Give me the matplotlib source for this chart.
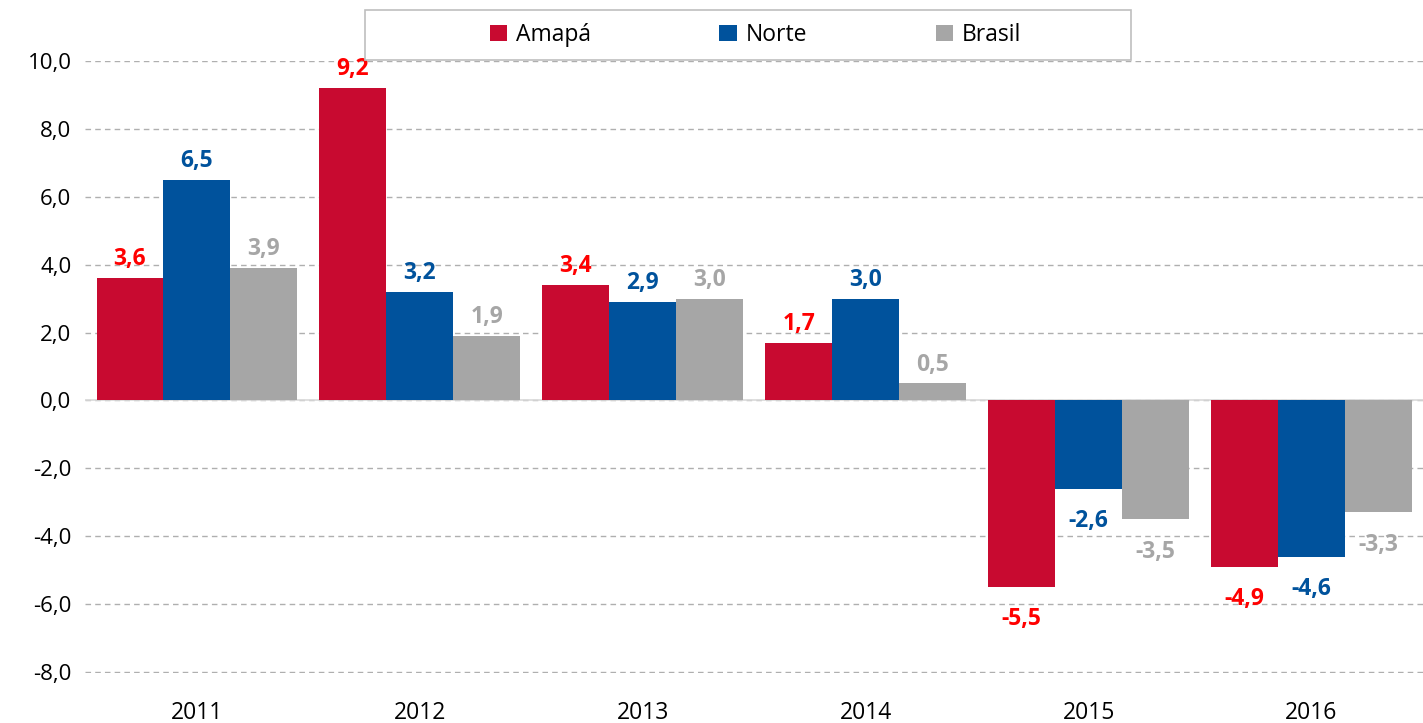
import numpy as np
import matplotlib.pyplot as plt
from matplotlib.patches import Rectangle

anos = ['2011', '2012', '2013', '2014', '2015', '2016']
amapa = [3.6, 9.2, 3.4, 1.7, -5.5, -4.9]
norte = [6.5, 3.2, 2.9, 3.0, -2.6, -4.6]
brasil = [3.9, 1.9, 3.0, 0.5, -3.5, -3.3]
series = ['Amapá', 'Norte', 'Brasil']

cor_barra = ['#C80A30', '#00529C', '#A6A6A6']
cor_rotulo = ['#FF0000', '#00529C', '#A6A6A6']

plt.rcParams['font.family'] = ['Open Sans', 'DejaVu Sans']

fig = plt.figure(figsize=(14.23, 7.23), dpi=100)
ax = fig.add_axes([0.060, 0.0692, 0.940, 0.8465])

x = np.arange(len(anos))
w = 0.3
for i, vals in enumerate([amapa, norte, brasil]):
    pos = x + (i - 1) * w
    ax.bar(pos, vals, w, color=cor_barra[i], label=series[i], zorder=3)
    for xp, v in zip(pos, vals):
        # rotulos acima das barras positivas, abaixo das negativas
        off = 0.2 if v >= 0 else -0.6
        ax.text(xp, v + off, f'{v:.1f}'.replace('.', ','), ha='center',
                va='bottom' if v >= 0 else 'top', color=cor_rotulo[i],
                fontsize=16.5, fontweight='bold', zorder=4, clip_on=False)

ax.set_xlim(-0.5, len(anos) - 0.5)
ax.set_ylim(-8.03, 10)
ax.set_yticks(np.arange(-8, 11, 2))
ax.set_yticklabels([f'{t:.1f}'.replace('.', ',') for t in np.arange(-8, 11, 2)], fontsize=16)
ax.set_xticks(x)
ax.set_xticklabels(anos, fontsize=16.5)
ax.tick_params(axis='both', length=0)
ax.tick_params(axis='x', pad=20)
ax.tick_params(axis='y', pad=10)
ax.grid(axis='y', color='#AFAFAF', linestyle=(0, (4, 3)), linewidth=1, zorder=0)
ax.axhline(0, color='#D9D9D9', linewidth=1.2, zorder=2)
for s in ax.spines.values():
    s.set_visible(False)

# legenda com caixa
fig.patches.append(Rectangle((365 / 1423, 1 - 60 / 723), (1131 - 365) / 1423, 50 / 723,
                             transform=fig.transFigure, facecolor='white',
                             edgecolor='#BFBFBF', linewidth=1.2, zorder=5))
leg = fig.legend(loc='center', bbox_to_anchor=(0.531, 1 - 35 / 723), ncol=3,
                 frameon=False, fontsize=16.5, handlelength=0.75, handleheight=0.75,
                 handletextpad=0.4, columnspacing=5.6)
leg.set_zorder(6)

fig.savefig('out.png', dpi=100)
